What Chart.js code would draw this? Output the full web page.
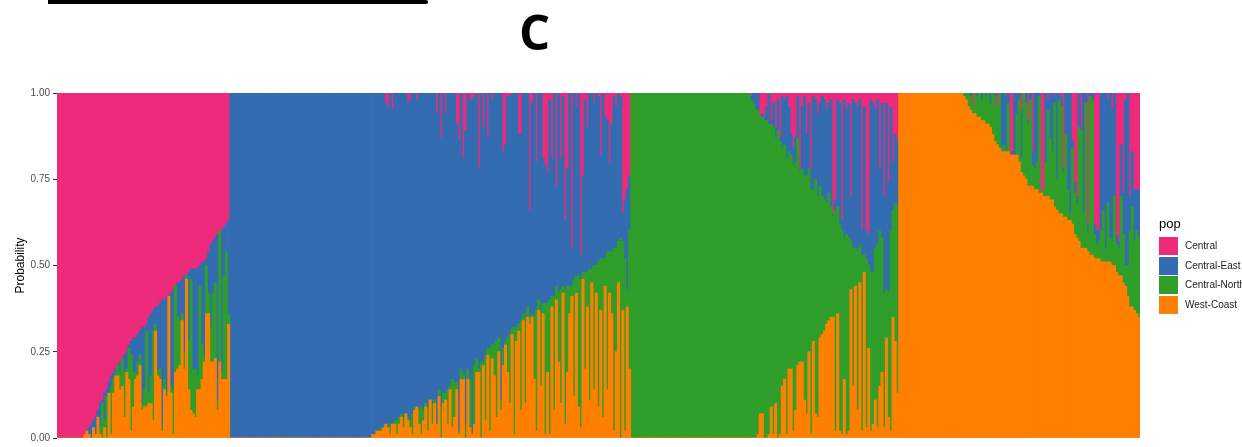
<!DOCTYPE html>
<html>
<head>
<meta charset="utf-8">
<script src="https://cdn.jsdelivr.net/npm/chart.js@4.4.0/dist/chart.umd.min.js"></script>
<style>
    html, body { margin: 0; padding: 0; background: #fff; width: 1242px; height: 447px; overflow: hidden; }
    #wrap { position: relative; width: 1242px; height: 447px; font-family: 'Liberation Sans', Arial, sans-serif; }
    #wrap canvas { position: absolute; left: 0; top: 0; }
    .rule { position: absolute; left: 48px; top: 0; width: 380px; height: 4px; background: #000; border-radius: 0 2px 2px 0; }
    .panel { position: absolute; left: 519px; top: 7px; font: bold 49px 'Open Sans', sans-serif; line-height: 49px; color: #000; }
    .leg-title { position: absolute; left: 1159px; top: 217px; font-size: 13px; line-height: 13px; color: #000; }
    .leg-key { position: absolute; left: 1159px; width: 19px; height: 18px; }
    .leg-label { position: absolute; left: 1185px; font-size: 10px; line-height: 18px; color: #1a1a1a; white-space: nowrap; }
</style>
</head>
<body>
<div id="wrap">
    <canvas id="structure" width="1242" height="447"></canvas>
    <div class="rule"></div>
    <div class="panel">C</div>
    <div class="leg-title">pop</div>
</div>
<script>
// clusters, stacked top to bottom like the original plot
const clusterNames = ['Central', 'Central-East', 'Central-North', 'West-Coast'];
const clusterColors = ['#EE2A7B', '#336CB0', '#2F9E2A', '#FF7F00'];

// sampling groups along the x axis, individuals per group
const groupNames = ['Central', 'Central-East', 'Central-North', 'West-Coast'];
const groupSizes = [78, 181, 121, 109];

// membership in % per individual; Central-East is what is left over
// --- Central group ---
const cenCentral = [100,100,100,100,100,100,100,100,100,100,100,100,
    99,98,97,96,95,94,92,90,89,87, 86,84,82,81,80,79,78,77,76,75,
    73,72,71,71,70,69,68,68,67,65, 64,63,62,62,61,60,60,59,59,58,
    57,56,55,55,54,53,53,52,51,51, 51,51,50,49,49,48,46,44,43,42,
    41,40,40,39,38,37];
const cenNorth = [0,0,0,0,0,0,0,0,0,0,0,0,
    0,0,0,0,0,0,0,2,10,2, 12,0,14,4,1,3,5,8,13,1, 9,22,10,2,
    4,3,2,5,22,3,8,26,2,1, 3,1,3,1,0,2,13,25,15,13, 2,5,1,14,38,13,14,4,30,10,
    2,14,6,10,20,22,3,38,2,30, 37,3];
const cenWest = [0,0,0,0,0,0,0,0,0,0,0,0,
    1,2,1,0,3,1,6,1,0,3, 0,13,1,13,18,18,14,15,6,19, 17,2,9,17,
    18,21,8,9,9,10,10,5,31,18, 17,2,14,12,41,13,1,19,20,21, 34,20,46,14,8,7,6,14,14,17,
    22,36,36,22,22,23,8,22,17,17, 17,33];

// --- Central-East group ---
const eastCentral = [0,0,0,0,0,0,0,0,0,0, 0,0,0,0,0,0,0,0,0,0, 0,0,0,0,0,0,0,0,0,0,
    0,0,0,0,0,0,0,0,0,0, 0,0,0,0,0,0,0,0,0,0, 0,0,0,0,0,0,0,0,0,0, 0,0,0,0,
    0,0,0,0,0,0,3,4,0,5, 0,0,0,0,0,0,3,2,0,0, 2,0,0,0,0,0,0,0,0,6,
    0,13,0,6,0,0,0,0,9,14, 0,19,11,0,2,2,1,0,22,0, 10,0,13,0,2,0,0,0,0,17,
    15,1,1,0,0,0,12,12,0,0, 0,34,3,0,20,0,0,19,21,23, 2,19,0,27,0,19,1,37,22,0,
    45,0,4,0,47,24,2,10,0,0, 3,0,1,18,0,7,8,20,9,1, 4,0,1,35,31,28,24];
const eastNorth = [0,0,0,0,0,0,0,0,0,0, 0,0,0,0,0,0,0,0,0,0, 0,0,0,0,0,0,0,0,0,0,
    0,0,0,0,0,0,0,0,0,0, 0,0,0,0,0,0,0,0,0,0, 0,0,0,0,0,0,0,0,0,0, 0,0,0,0,
    0,0,0,0,1,0,0,0,3,0, 1,4,2,1,3,0,1,2,6,1, 0,4,8,3,1,7,0,6,1,0,
    2,9,3,2,10,1,14,10,2,1, 3,1,4,3,14,1,17,4,1,22, 1,19,2,24,4,9,22,4,3,5,
    1,10,20,2,31,4,2,26,2,25, 3,2,1,18,35,3,22,3,38,20, 39,3,33,4,20,33,2,39,25,8,
    3,34,5,38,43,2,28,10,38,4, 36,8,42,15,46,8,40,12,18,53, 30,12,58,20,50,5,40];
const eastWest = [0,0,0,0,0,0,0,0,0,0, 0,0,0,0,0,0,0,0,0,0, 0,0,0,0,0,0,0,0,0,0,
    0,0,0,0,0,0,0,0,0,0, 0,0,0,0,0,0,0,0,0,0, 0,0,0,0,0,0,0,0,0,0, 0,0,0,0,
    1,1,2,2,2,3,4,3,1,4, 4,1,4,6,3,7,5,3,1,8, 9,4,1,5,9,2,11,4,10,4,
    12,0,10,11,4,14,3,6,14,1, 17,17,0,17,3,1,4,19,19,0, 21,5,24,2,23,18,6,25,8,21,
    27,19,10,30,1,28,31,8,34,10, 35,33,35,17,2,37,15,36,1,19, 1,38,8,40,22,10,42,4,19,36,
    41,12,42,9,3,46,20,38,11,45, 14,42,9,37,6,44,14,42,36,2, 25,45,0,37,2,38,20];

// --- Central-North group ---
const northCentral = [0,0,0,0,0,0,0,0,0,0, 0,0,0,0,0,0,0,0,0,0, 0,0,0,0,0,0,0,0,0,0,
    0,0,0,0,0,0,0,0,0,0, 0,0,0,0,0,0,0,0,0,0, 0,0,0,0,
    1,0,0,0,7,6,7,4,0,8, 3,10,2,13,1,2,1,4,12,16, 13,1,22,4,1,12,3,22,1,2,
    6,3,1,2,5,3,2,35,31,2, 3,37,2,5,3,30,2,3,4,2, 40,4,40,41,2,3,5,2,22,3,
    30,3,26,4,20,12,14];
const northNorth = [100,100,100,100,100,100,100,100,100,100, 100,100,100,100,100,100,100,100,100,100,
    100,100,100,100,100,100,100,100,100,100, 100,100,100,100,100,100,100,100,100,100,
    100,100,100,100,100,100,100,100,100,100, 100,100,100,100,
    98,97,95,94,86,86,92,92,90,82, 89,77,89,85,69,68,80,63,62,77, 72,66,55,56,65,69,53,71,44,68,
    64,44,40,38,35,37,32,29,64,31, 60,59,41,58,56,14,40,11,46,11, 51,5,49,24,46,44,44,53,45,39,
    39,14,36,58,31,40,54];
const northWest = [0,0,0,0,0,0,0,0,0,0, 0,0,0,0,0,0,0,0,0,0, 0,0,0,0,0,0,0,0,0,0,
    0,0,0,0,0,0,0,0,0,0, 0,0,0,0,0,0,0,0,0,0, 0,0,0,0,
    0,0,0,1,7,7,0,0,1,9, 1,10,0,1,15,17,1,20,20,2, 8,21,22,22,11,7,25,1,28,7,
    6,29,30,31,33,34,35,35,2,36, 2,1,17,1,2,43,15,44,8,45, 2,48,3,26,2,4,11,3,15,19,
    3,29,6,2,35,28,13];

// --- West-Coast group ---
const westCentral = [0,0,0,0,0,0,0,0,0,0, 0,0,0,0,0,0,0,0,0,0, 0,0,0,0,0,0,0,0,0,
    0,0,0,0,4,0,0,0,0,0, 0,0,0,0,0,4,0,0,0,1, 0,18,17,0,0,0,5,0,0,8,
    0,17,0,0,0,29,28,0,2,0, 0,1,0,0,1,22,0,0,0,14, 26,30,0,10,0,0,38,0,0,38,
    40,40,0,0,0,2,0,5,0,41, 43,15,29,2,0,30,17,28,28,28];
const westNorth = [0,0,0,0,0,0,0,0,0,0, 0,0,0,0,0,0,0,0,0,0, 0,0,0,0,0,0,0,0,0,
    1,2,4,4,2,6,6,7,6,8, 8,9,7,12,13,11,16,1,2,0, 14,0,0,0,12,18,4,24,22,18,
    25,6,6,8,28,0,2,10,25,18, 14,30,9,33,31,13,24,9,2,22, 12,10,33,34,10,42,6,46,45,7,
    4,5,9,15,4,17,7,7,20,8, 8,23,14,6,9,22,29,20,24,23];
const westWest = [100,100,100,100,100,100,100,100,100,100, 100,100,100,100,100,100,100,100,100,100,
    100,100,100,100,100,100,100,100,100,
    99,98,96,95,94,94,93,93,92,92, 91,91,90,88,86,85,84,83,83,83, 83,82,82,82,82,80,77,76,75,73,
    73,73,72,72,71,71,70,70,70,69, 69,67,66,65,65,64,64,63,63,62, 59,58,57,55,55,55,54,53,53,52,
    52,52,51,51,51,51,51,50,50,48, 47,47,45,44,41,38,38,37,36,35];

const central = [cenCentral, eastCentral, northCentral, westCentral];
const centralNorth = [cenNorth, eastNorth, northNorth, westNorth];
const westCoast = [cenWest, eastWest, northWest, westWest];

// quick sanity check, the bars shift if one group is off by one
groupSizes.forEach((n, i) => {
    [central[i], centralNorth[i], westCoast[i]].forEach((arr, k) => {
        if (arr.length !== n) throw new Error(`group ${groupNames[i]} array ${k} has ${arr.length}, expected ${n}`);
    });
});

const pCentral = central.flat();
const pNorth = centralNorth.flat();
const pWest = westCoast.flat();
const pEast = pCentral.map((v, i) => 100 - v - pNorth[i] - pWest[i]);

const labels = [];
groupNames.forEach((g, gi) => {
    for (let i = 0; i < groupSizes[gi]; i++) labels.push(`${g} ${i + 1}`);
});

const shares = [pCentral, pEast, pNorth, pWest];
// chart.js stacks the first dataset at the bottom, so go in reverse
const datasets = [3, 2, 1, 0].map(k => ({
    label: clusterNames[k],
    data: shares[k].map(v => v / 100),
    backgroundColor: clusterColors[k],
    borderWidth: 0,
    barPercentage: 1,
    categoryPercentage: 1,
    inflateAmount: 0.4
}));

const family = "'Liberation Sans', Arial, sans-serif";

new Chart(document.getElementById('structure'), {
    type: 'bar',
    data: { labels: labels, datasets: datasets },
    options: {
        responsive: false,
        animation: false,
        devicePixelRatio: 1,
        layout: { padding: { left: 0, right: 102, top: 93, bottom: 8 } },
        plugins: { legend: { display: false }, tooltip: { enabled: false } },
        scales: {
            x: { display: false, stacked: true },
            y: {
                stacked: true,
                min: 0,
                max: 1,
                afterFit: (s) => { s.width = 57; },
                ticks: { stepSize: 0.25, callback: (v) => v.toFixed(2), color: '#4d4d4d', font: { family: family, size: 10 }, padding: 3 },
                grid: { drawOnChartArea: false, drawTicks: true, tickLength: 4, color: '#333' },
                border: { display: false },
                title: { display: true, text: 'Probability', color: '#000', font: { family: family, size: 12 }, padding: { top: 13, bottom: 0 } }
            }
        }
    }
});

// legend, same look as the ggplot key
const wrap = document.getElementById('wrap');
clusterNames.forEach((name, i) => {
    const top = 237 + i * 19.5;
    const key = document.createElement('div');
    key.className = 'leg-key';
    key.style.top = top + 'px';
    key.style.background = clusterColors[i];
    wrap.appendChild(key);
    const txt = document.createElement('div');
    txt.className = 'leg-label';
    txt.style.top = top + 'px';
    txt.textContent = name;
    wrap.appendChild(txt);
});
</script>
</body>
</html>
